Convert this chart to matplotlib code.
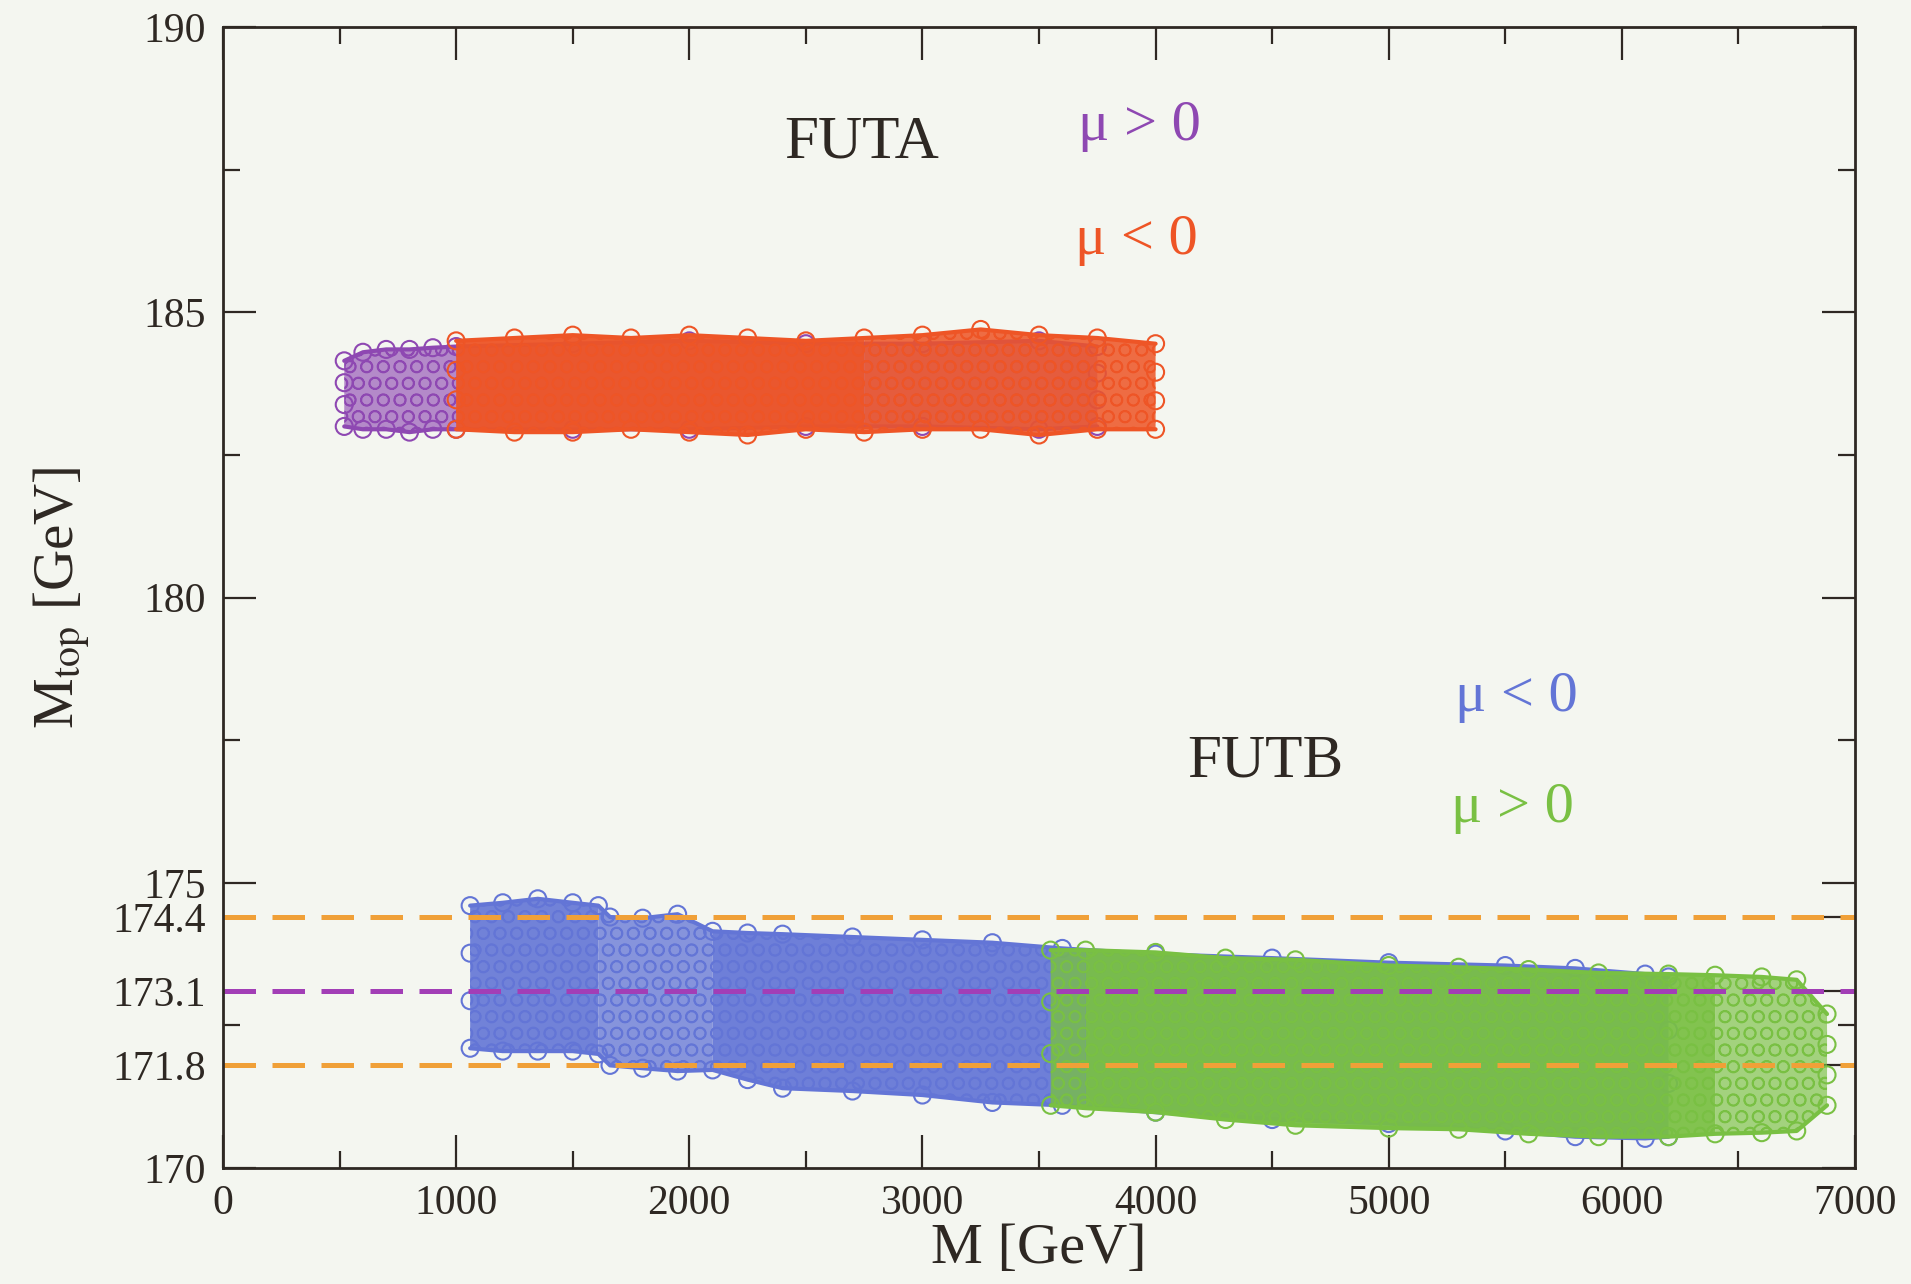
import matplotlib
matplotlib.use("Agg")
import matplotlib.pyplot as plt
from matplotlib.ticker import FixedLocator, MultipleLocator

plt.rcParams['font.family'] = ['Liberation Serif', 'DejaVu Serif']
plt.rcParams['mathtext.fontset'] = 'stix'
plt.rcParams['hatch.linewidth'] = 1.2

# ---------------- data (cloud envelopes, marker centres) -------------
# FUTA, mu > 0 (purple)
futa_pos_x   = [520, 600, 700, 800, 900, 1000, 1500, 2000, 2500, 3000, 3500, 3750]
futa_pos_top = [184.15, 184.30, 184.35, 184.35, 184.38, 184.40, 184.45, 184.50, 184.45, 184.45, 184.50, 184.40]
futa_pos_bot = [183.00, 182.95, 182.95, 182.90, 182.95, 182.95, 182.95, 182.95, 183.00, 183.00, 182.95, 183.00]

# FUTA, mu < 0 (orange-red)
futa_neg_x   = [1000, 1250, 1500, 1750, 2000, 2250, 2500, 2750, 3000, 3250, 3500, 3750, 4000]
futa_neg_top = [184.50, 184.55, 184.60, 184.55, 184.60, 184.55, 184.50, 184.55, 184.60, 184.70, 184.60, 184.55, 184.45]
futa_neg_bot = [182.95, 182.90, 182.90, 182.95, 182.90, 182.85, 182.95, 182.90, 182.95, 182.95, 182.85, 182.95, 182.95]

# FUTB, mu < 0 (blue)
futb_neg_x   = [1060, 1200, 1350, 1500, 1610, 1660, 1800, 1950, 2100, 2250, 2400, 2700, 3000,
                3300, 3600, 4000, 4500, 5000, 5500, 5800, 6100, 6200]
futb_neg_top = [174.60, 174.65, 174.72, 174.65, 174.60, 174.40, 174.38, 174.45, 174.15, 174.12, 174.10,
                174.05, 174.00, 173.95, 173.85, 173.75, 173.68, 173.60, 173.55, 173.50, 173.40, 173.35]
futb_neg_bot = [172.10, 172.05, 172.05, 172.05, 172.00, 171.80, 171.75, 171.70, 171.72, 171.55, 171.40,
                171.35, 171.28, 171.15, 171.10, 170.98, 170.85, 170.78, 170.65, 170.55, 170.52, 170.55]

# FUTB, mu > 0 (green)
futb_pos_x   = [3550, 3700, 4000, 4300, 4600, 5000, 5300, 5600, 5900, 6200, 6400, 6600, 6750, 6880]
futb_pos_top = [173.82, 173.82, 173.78, 173.68, 173.65, 173.55, 173.52, 173.48, 173.42, 173.40,
                173.38, 173.35, 173.30, 172.70]
futb_pos_bot = [171.10, 171.05, 170.98, 170.85, 170.75, 170.70, 170.68, 170.60, 170.55, 170.55,
                170.60, 170.62, 170.65, 171.10]

# reference lines
hline_orange = [174.4, 171.8]
hline_purple = [173.1]

# ticks
y_major = [170, 171.8, 173.1, 174.4, 175, 180, 185, 190]
y_major_labels = ["170", "171.8", "173.1", "174.4", "175", "180", "185", "190"]
y_minor = [172.5, 177.5, 182.5, 187.5]
x_major = [0, 1000, 2000, 3000, 4000, 5000, 6000, 7000]

# ---------------- styling -------------
BG = '#F4F6F0'
INK = '#2E2823'
C_PURPLE = '#8E48B2'
C_ORANGE = '#EE5526'
C_BLUE = '#6375D6'
C_GREEN = '#79C043'
C_DASH_OR = '#F0A038'
C_DASH_PU = '#A23EB6'

fig = plt.figure(figsize=(19.11, 12.84), dpi=100, facecolor=BG)
ax = fig.add_axes([0.1167, 0.0903, 0.854, 0.8886])
ax.set_facecolor(BG)


def cloud(x, top, bot, color, segments, z):
    # segments: (first index, last index, fill opacity) -- denser parts are more opaque
    for i0, i1, a in segments:
        xs, ts, bs = x[i0:i1 + 1], top[i0:i1 + 1], bot[i0:i1 + 1]
        ax.fill_between(xs, bs, ts, facecolor=color, alpha=a, edgecolor='none',
                        linewidth=0, zorder=z)
    ax.fill_between(x, bot, top, facecolor='none', edgecolor=color, hatch='O',
                    linewidth=0, zorder=z + 0.1)
    ax.plot(x, top, color=color, lw=3, zorder=z + 0.2, solid_capstyle='round')
    ax.plot(x, bot, color=color, lw=3, zorder=z + 0.2, solid_capstyle='round')
    ax.scatter(x + x[::-1], top + bot[::-1], s=150, facecolors='none',
               edgecolors=color, linewidths=1.5, zorder=z + 0.3)
    ax.scatter([x[0], x[0], x[-1], x[-1]], [(top[0] * 2 + bot[0]) / 3, (top[0] + 2 * bot[0]) / 3,
                                           (top[-1] * 2 + bot[-1]) / 3, (top[-1] + 2 * bot[-1]) / 3],
               s=150, facecolors='none', edgecolors=color, linewidths=1.5, zorder=z + 0.3)


cloud(futa_pos_x, futa_pos_top, futa_pos_bot, C_PURPLE, [(0, 11, 0.62)], 2)
cloud(futa_neg_x, futa_neg_top, futa_neg_bot, C_ORANGE, [(0, 7, 0.95), (7, 12, 0.86)], 3)
cloud(futb_neg_x, futb_neg_top, futb_neg_bot, C_BLUE, [(0, 4, 0.9), (4, 8, 0.76), (8, 21, 0.92)], 2)
cloud(futb_pos_x, futb_pos_top, futb_pos_bot, C_GREEN, [(0, 1, 0.78), (1, 10, 0.93), (10, 13, 0.66)], 3)

for yv in hline_orange:
    ax.axhline(yv, color=C_DASH_OR, lw=3.6, dashes=(6.5, 3.3), zorder=6)
for yv in hline_purple:
    ax.axhline(yv, color=C_DASH_PU, lw=3.6, dashes=(6.5, 3.3), zorder=6)

ax.set_xlim(0, 7000)
ax.set_ylim(170, 190)
ax.xaxis.set_major_locator(FixedLocator(x_major))
ax.xaxis.set_minor_locator(MultipleLocator(500))
ax.yaxis.set_major_locator(FixedLocator(y_major))
ax.yaxis.set_minor_locator(FixedLocator(y_minor))
ax.set_yticklabels(y_major_labels)

ax.tick_params(which='both', direction='in', top=True, right=True, colors=INK,
               labelsize=30, pad=12, width=1.6)
ax.tick_params(which='major', length=24)
ax.tick_params(which='minor', length=12)
for sp in ax.spines.values():
    sp.set_color(INK)
    sp.set_linewidth(2.0)
    sp.set_zorder(10)

ax.set_xlabel("M [GeV]", fontsize=42, color=INK, labelpad=0)
ax.set_ylabel(r"M$_{\rm top}$ [GeV]", fontsize=41, color=INK, labelpad=14)

ax.text(2739, 187.97, "FUTA", fontsize=44, color=INK, ha='center', va='center')
ax.text(3931, 188.27, "μ > 0", fontsize=42, color=C_PURPLE, ha='center', va='center')
ax.text(3916, 186.26, "μ < 0", fontsize=42, color=C_ORANGE, ha='center', va='center')
ax.text(4470, 177.12, "FUTB", fontsize=44, color=INK, ha='center', va='center')
ax.text(5547, 178.25, "μ < 0", fontsize=42, color=C_BLUE, ha='center', va='center')
ax.text(5531, 176.32, "μ > 0", fontsize=42, color=C_GREEN, ha='center', va='center')

fig.savefig("out.png", dpi=100, facecolor=BG)
